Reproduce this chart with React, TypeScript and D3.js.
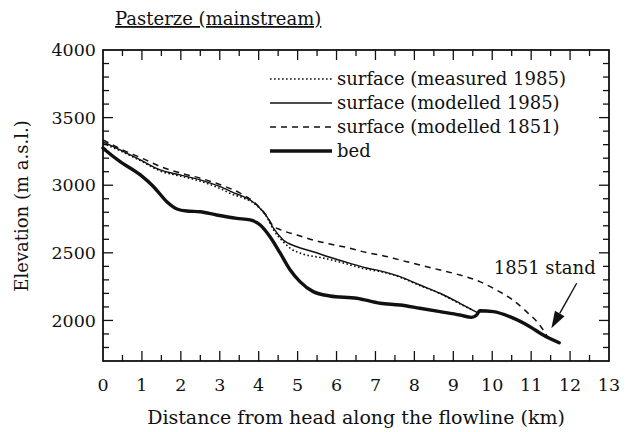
import React from 'react';
import * as d3 from 'd3';

// ---- data (km along flowline, elevation m a.s.l.) ----
const bedKm = [0, 0.08, 0.44, 0.96, 1.3, 1.64, 1.9, 2.15, 2.5, 2.92, 3.44, 3.78, 4.04, 4.29, 4.55, 4.81, 5.06, 5.4, 5.83, 6.52, 7.12, 7.63, 8.14, 8.66, 9.17, 9.47, 9.6, 9.68, 10.03, 10.45, 10.97, 11.31, 11.72];
const bedElev = [3275, 3255, 3174, 3076, 2989, 2878, 2824, 2809, 2804, 2780, 2755, 2743, 2706, 2619, 2499, 2373, 2287, 2213, 2181, 2164, 2127, 2114, 2090, 2065, 2040, 2023, 2040, 2072, 2065, 2028, 1954, 1892, 1835];

const mod1985Km = [0, 0.44, 0.96, 1.47, 1.98, 2.5, 3.01, 3.44, 3.61, 3.95, 4.21, 4.38, 4.63, 4.98, 5.4, 5.83, 6.35, 6.78, 7.12, 7.63, 8.14, 8.66, 9.17, 9.62];
const mod1985Elev = [3320, 3261, 3187, 3113, 3076, 3039, 2989, 2935, 2915, 2854, 2767, 2682, 2595, 2545, 2508, 2467, 2422, 2388, 2366, 2324, 2262, 2201, 2127, 2058];

const meas1985Km = [0, 0.44, 0.96, 1.47, 1.98, 2.5, 3.01, 3.3, 3.61, 3.95, 4.21, 4.38, 4.63, 4.81, 5.14, 5.65, 6.17, 6.78, 7.12, 7.63, 8.14, 8.66, 9.17, 9.5];
const meas1985Elev = [3310, 3255, 3182, 3105, 3068, 3030, 2975, 2935, 2905, 2850, 2765, 2670, 2582, 2534, 2491, 2462, 2425, 2378, 2362, 2320, 2258, 2198, 2123, 2075];

const mod1851Km = [0, 0.5, 1.0, 1.5, 2.0, 2.5, 3.0, 3.5, 3.9, 4.2, 4.37, 4.55, 4.98, 5.4, 5.83, 6.35, 6.78, 7.12, 7.63, 8.14, 8.66, 9.17, 9.68, 10.11, 10.53, 10.88, 11.22, 11.4];
const mod1851Elev = [3335, 3262, 3200, 3135, 3090, 3052, 3005, 2945, 2870, 2775, 2700, 2672, 2632, 2595, 2565, 2534, 2501, 2484, 2447, 2410, 2373, 2336, 2287, 2225, 2151, 2065, 1966, 1890];

const xTickLabels = ['0', '1', '2', '3', '4', '5', '6', '7', '8', '9', '10', '11', '12', '13'];
const yTickValues = [2000, 2500, 3000, 3500, 4000];

const legendLabels = ['surface (measured 1985)', 'surface (modelled 1985)', 'surface (modelled 1851)', 'bed'];

const arrowFrom = [12.17, 2275];
const arrowTo = [11.52, 1942];
const annotation = { km: 11.35, elev: 2340, text: '1851 stand' };

const titleText = 'Pasterze (mainstream)';
const xTitle = 'Distance from head along the flowline (km)';
const yTitle = 'Elevation (m a.s.l.)';

const W = 634;
const H = 432;
const M = { left: 103, right: 609, top: 50, bottom: 361 };
const FONT = "'DejaVu Serif', serif";
const INK = '#111';

export default function App() {
  const x = d3.scaleLinear().domain([0, 13]).range([M.left, M.right]);
  const y = d3.scaleLinear().domain([1700, 4000]).range([M.bottom, M.top]);

  const mk = (km: number[], el: number[]) =>
    d3
      .line<number>()
      .x((_, i) => x(km[i]))
      .y((d) => y(d))
      .curve(d3.curveMonotoneX)(el) || '';

  const xMinor = d3.range(0.5, 13, 0.5);
  const yMinor = d3.range(1800, 4000, 100);

  const styles = [
    { dash: '1.6 2.4', w: 1.6 },
    { dash: '', w: 1.4 },
    { dash: '6 5', w: 1.5 },
    { dash: '', w: 3.4 },
  ];

  // arrow
  const ax0 = x(arrowFrom[0]);
  const ay0 = y(arrowFrom[1]);
  const ax1 = x(arrowTo[0]);
  const ay1 = y(arrowTo[1]);
  const ang = Math.atan2(ay1 - ay0, ax1 - ax0);
  const hl = 17;
  const hw = 5.5;
  const bx = ax1 - hl * Math.cos(ang);
  const by = ay1 - hl * Math.sin(ang);
  const px = -Math.sin(ang) * hw;
  const py = Math.cos(ang) * hw;

  const legY0 = 79;
  const legDy = 24;

  return (
    <svg width={W} height={H} style={{ position: 'absolute', left: 0, top: 0, background: '#fff' }} fontFamily={FONT}>
      <rect x={0} y={0} width={W} height={H} fill="#fff" />
      {/* title */}
      <text x={115} y={25} fontSize={18} fill={INK} style={{ textDecoration: 'underline' }}>
        {titleText}
      </text>

      {/* frame */}
      <rect x={M.left} y={M.top} width={M.right - M.left} height={M.bottom - M.top} fill="none" stroke={INK} strokeWidth={1.8} />

      {/* x ticks bottom/top */}
      {xMinor.map((v) => {
        const len = Number.isInteger(v) ? 10 : 6;
        return (
          <g key={'xt' + v}>
            <line x1={x(v)} x2={x(v)} y1={M.bottom} y2={M.bottom - len} stroke={INK} strokeWidth={1.3} />
            <line x1={x(v)} x2={x(v)} y1={M.top} y2={M.top + len} stroke={INK} strokeWidth={1.3} />
          </g>
        );
      })}
      {/* y ticks left/right */}
      {yMinor.map((v) => {
        const len = v % 500 === 0 ? 10 : 6;
        return (
          <g key={'yt' + v}>
            <line x1={M.left} x2={M.left + len} y1={y(v)} y2={y(v)} stroke={INK} strokeWidth={1.3} />
            <line x1={M.right} x2={M.right - len} y1={y(v)} y2={y(v)} stroke={INK} strokeWidth={1.3} />
          </g>
        );
      })}

      {/* tick labels */}
      {xTickLabels.map((t, i) => (
        <text key={'xl' + t} x={x(i)} y={391} fontSize={17.5} textAnchor="middle" fill={INK}>
          {t}
        </text>
      ))}
      {yTickValues.map((v) => (
        <text key={'yl' + v} x={96} y={y(v)} dy="0.35em" fontSize={17.5} textAnchor="end" fill={INK}>
          {v}
        </text>
      ))}

      {/* axis titles */}
      <text x={(M.left + M.right) / 2} y={424} fontSize={19} textAnchor="middle" fill={INK}>
        {xTitle}
      </text>
      <text transform={`translate(28,206) rotate(-90)`} fontSize={18} textAnchor="middle" fill={INK}>
        {yTitle}
      </text>

      {/* curves */}
      <path d={mk(meas1985Km, meas1985Elev)} fill="none" stroke={INK} strokeWidth={styles[0].w} strokeDasharray={styles[0].dash} />
      <path d={mk(mod1985Km, mod1985Elev)} fill="none" stroke={INK} strokeWidth={styles[1].w} />
      <path d={mk(mod1851Km, mod1851Elev)} fill="none" stroke={INK} strokeWidth={styles[2].w} strokeDasharray={styles[2].dash} />
      <path d={mk(bedKm, bedElev)} fill="none" stroke={INK} strokeWidth={styles[3].w} strokeLinejoin="round" strokeLinecap="round" />

      {/* legend */}
      {legendLabels.map((lab, i) => (
        <g key={'lg' + i}>
          <line x1={270} x2={332} y1={legY0 + i * legDy} y2={legY0 + i * legDy} stroke={INK} strokeWidth={styles[i].w} strokeDasharray={styles[i].dash || undefined} />
          <text x={337} y={legY0 + i * legDy} dy="0.35em" fontSize={18} fill={INK}>
            {lab}
          </text>
        </g>
      ))}

      {/* annotation */}
      <text x={x(annotation.km)} y={y(annotation.elev)} fontSize={18} textAnchor="middle" fill={INK}>
        {annotation.text}
      </text>
      <line x1={ax0} y1={ay0} x2={bx} y2={by} stroke={INK} strokeWidth={1.4} />
      <polygon points={`${ax1},${ay1} ${bx + px},${by + py} ${bx - px},${by - py}`} fill={INK} />
    </svg>
  );
}
